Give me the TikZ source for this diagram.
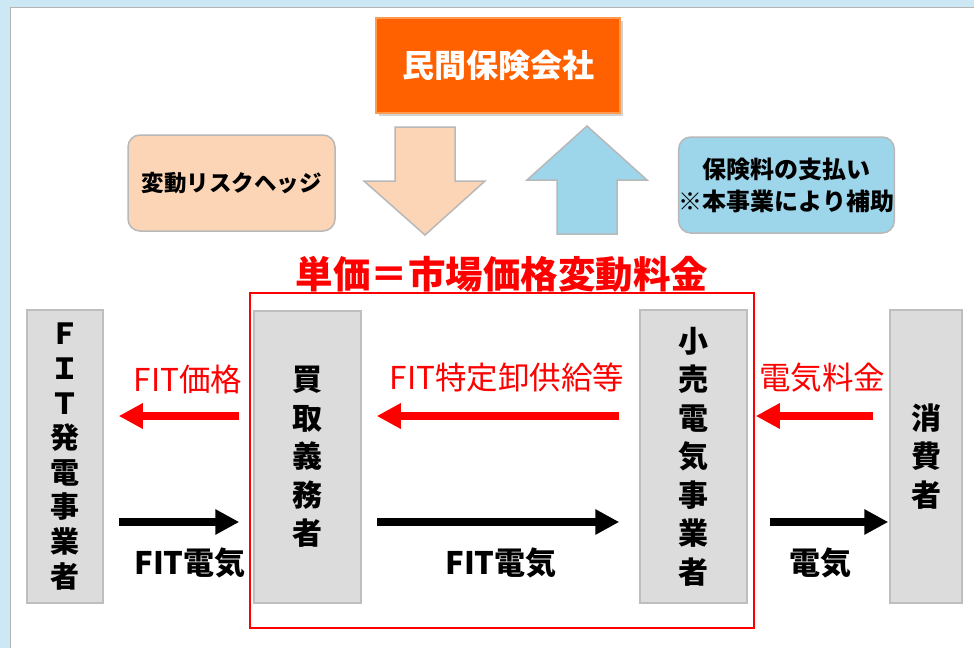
\documentclass[tikz,border=0pt]{standalone}
\usepackage{fontspec}
\setmainfont{Noto Sans CJK JP}
\usetikzlibrary{arrows.meta,shadows}
\definecolor{bgblue}{HTML}{CCE8F4}
\definecolor{panelgray}{HTML}{B4B4B4}
\definecolor{orangebox}{HTML}{FF6000}
\definecolor{orangeedge}{HTML}{FF9A50}
\definecolor{peach}{HTML}{FBD5B5}
\definecolor{skyblue}{HTML}{9DD5EA}
\definecolor{boxgray}{HTML}{DCDCDC}
\definecolor{boxedge}{HTML}{BEBEBE}
\definecolor{shapeedge}{HTML}{B8B8B8}
\tikzset{
  actor/.style={draw=boxedge, line width=1.5pt, fill=boxgray, inner sep=0pt, align=center,
    font={\fontsize{30}{38.5}\selectfont\bfseries}},
  sidebox/.style={draw=shapeedge, line width=1.5pt, rounded corners=12pt, inner sep=0pt,
    minimum width=207pt, minimum height=96pt, align=center},
  redarrow/.style={draw=red, line width=8pt, -{Triangle[length=24pt,width=24pt]}},
  blackarrow/.style={draw=black, line width=8pt, -{Triangle[length=24pt,width=24pt]}},
  redlabel/.style={text=red, font={\fontsize{31.5}{34}\selectfont}, inner sep=0pt},
  blacklabel/.style={text=black, font={\fontsize{31}{34}\selectfont\bfseries}, inner sep=0pt},
}
\begin{document}
\begin{tikzpicture}[x=1pt,y=-1pt]
\useasboundingbox (0,0) rectangle (974,648);
% background and panel
\fill[bgblue] (0,0) rectangle (974,648);
\fill[white] (10,7) rectangle (974,648);
\draw[panelgray, line width=1.5pt] (10.5,648) -- (10.5,7.5) -- (974,7.5);

% insurer
\node[draw=orangeedge, line width=1.5pt, fill=orangebox, minimum width=244pt, minimum height=95pt,
  inner sep=0pt, text=white, font={\fontsize{32}{34}\selectfont\bfseries},
  drop shadow={opacity=0.35, shadow xshift=2.5pt, shadow yshift=-2.5pt}]
  (ins) at (498,65.5) {民間保険会社};

% side boxes
\node[sidebox, fill=peach, font={\fontsize{22.5}{30}\selectfont\bfseries}] (hedge) at (231.5,183) {変動リスクヘッジ};
\node[sidebox, fill=skyblue, font={\fontsize{24}{32}\selectfont\bfseries}] (prem) at (786.5,185) {保険料の支払い\\※本事業により補助};

% block arrows
\draw[shapeedge, line width=1.5pt, fill=peach] (395,127) -- (455,127) -- (455,181) -- (485,181) -- (425,235) -- (364,181) -- (395,181) -- cycle;
\draw[shapeedge, line width=1.5pt, fill=skyblue] (587,126) -- (647,180) -- (617,180) -- (617,234) -- (557,234) -- (557,180) -- (527,180) -- cycle;

% title
\node[text=red, font={\fontsize{37.5}{40}\selectfont\bfseries}, inner sep=0pt] (title) at (502,274) {単価＝市場価格変動料金};

% red frame
\draw[red, line width=2pt] (250,293) rectangle (754,628);

% actors
\node[actor, minimum width=76pt, minimum height=293pt, font={\fontsize{29}{34.6}\selectfont\bfseries}] (A) at (65,456.5) {Ｆ\\Ｉ\\Ｔ\\発\\電\\事\\業\\者};
\node[actor, minimum width=107pt, minimum height=292pt] (B) at (307.5,457) {買\\取\\義\\務\\者};
\node[actor, minimum width=107pt, minimum height=293pt] (C) at (693.5,456.5) {小\\売\\電\\気\\事\\業\\者};
\node[actor, minimum width=72pt, minimum height=293pt] (D) at (926,456.5) {消\\費\\者};

% money flows (red)
\draw[redarrow] ([xshift=-14pt]B.west |- 0,416) -- ([xshift=15pt]A.east |- 0,416);
\draw[redarrow] ([xshift=-20pt]C.west |- 0,416) -- ([xshift=15pt]B.east |- 0,416);
\draw[redarrow] ([xshift=-16pt]D.west |- 0,416) -- ([xshift=8pt]C.east |- 0,416);

% electricity flows (black)
\draw[blackarrow] ([xshift=15pt]A.east |- 0,522) -- ([xshift=-14pt]B.west |- 0,522);
\draw[blackarrow] ([xshift=15pt]B.east |- 0,522) -- ([xshift=-20pt]C.west |- 0,522);
\draw[blackarrow] ([xshift=22pt]C.east |- 0,522) -- ([xshift=-1pt]D.west |- 0,522);

% labels
\node[redlabel] (l1) at (188,380) {FIT価格};
\node[redlabel] (l2) at (507,378) {FIT特定卸供給等};
\node[redlabel] (l3) at (822,378) {電気料金};
\node[blacklabel] (m1) at (190,563) {FIT電気};
\node[blacklabel] (m2) at (501,563) {FIT電気};
\node[blacklabel] (m3) at (820,563) {電気};
\end{tikzpicture}
\end{document}
